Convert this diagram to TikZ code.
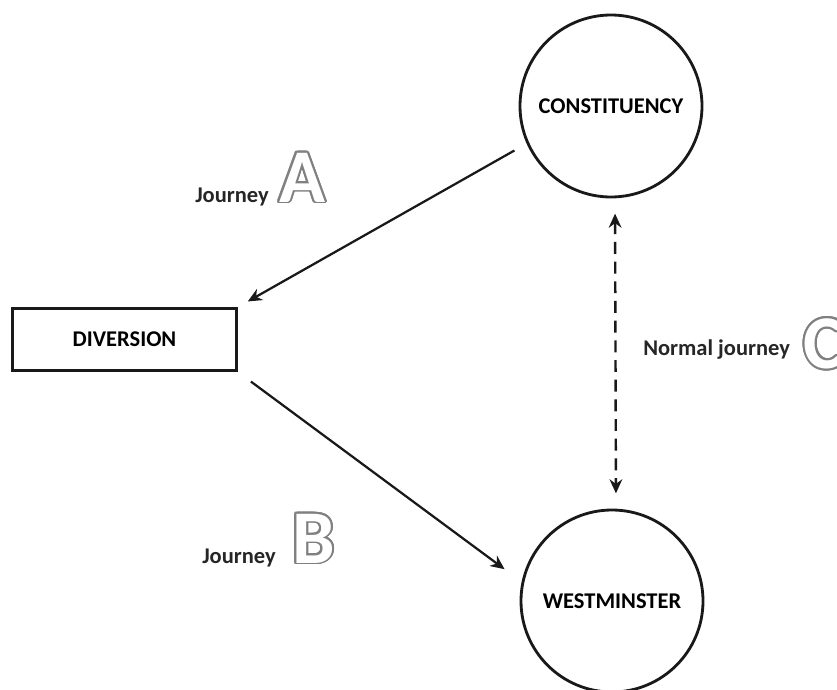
\documentclass[tikz,border=0pt]{standalone}
\usepackage{fontspec}
\setmainfont{Carlito}
\usepackage[copies]{contour}
\usepackage{tikz}
\usetikzlibrary{arrows.meta, positioning}
\contourlength{1.4pt}
\pgfdeclareradialshading{innerglow}{\pgfpoint{0cm}{0cm}}{color(0bp)=(white); color(40bp)=(white); color(50bp)=(black!25)}
\tikzstyle{place} = [circle, draw=black!90, line width=2pt, shade, shading=innerglow, minimum size=4.55cm, inner sep=0pt, font=\fontsize{16}{19}\selectfont\bfseries]
\tikzstyle{stop} = [rectangle, draw=black!90, line width=2.2pt, fill=white, minimum width=5.6cm, minimum height=1.55cm, font=\fontsize{16}{19}\selectfont\bfseries]
\tikzstyle{legtext} = [inner sep=0pt, text=black!85, font=\fontsize{16}{19}\selectfont\bfseries]
\tikzstyle{bigletter} = [inner sep=0pt, font=\fontsize{54}{54}\selectfont\bfseries]
\tikzstyle{journey} = [line width=1.6pt, draw=black!90, -{Stealth[length=10pt, width=9pt]}]
\tikzstyle{return} = [line width=1.7pt, draw=black!90, dash pattern=on 8.5pt off 5.5pt, {Stealth[length=10pt, width=9pt]}-{Stealth[length=10pt, width=9pt]}]
\newcommand{\hollow}[1]{\contour{black!50}{\textcolor{white}{#1}}}

\begin{document}
\begin{tikzpicture}
\useasboundingbox (0,0) rectangle (20.925,-17.225);
\clip (0,0) rectangle (20.925,-17.225);
% the three places
\node[place] (const) at (15.275,-2.65) {CONSTITUENCY};
\node[place] (west) at (15.3,-15.025) {WESTMINSTER};
\node[stop] (div) at (3.1125,-8.4875) {DIVERSION};
% journeys
\draw[journey, shorten <=0.35cm, shorten >=0.28cm] (const.204) -- (div.north east);
\draw[journey, shorten <=0.4cm, shorten >=0.53cm] (div.south east) -- (west.168);
\draw[return, shorten <=0.38cm, shorten >=0.38cm] ([xshift=0.1cm]const.south) -- ([xshift=0.1cm]west.north);
% labels with the big letters
\node[legtext, anchor=base west] (jA) at (4.875,-5.05) {Journey};
\node[bigletter, base right=0.25cm of jA] (A) {\hollow{A}};
\node[legtext, anchor=base west] (jB) at (5.05,-14.075) {Journey};
\node[bigletter, base right=0.4cm of jB] (B) {\hollow{B}};
\node[legtext, anchor=base west] (nj) at (16.075,-8.875) {Normal journey};
\node[bigletter, base right=0.33cm of nj, yshift=-0.33cm] (C) {\hollow{C}};
\end{tikzpicture}
\end{document}
